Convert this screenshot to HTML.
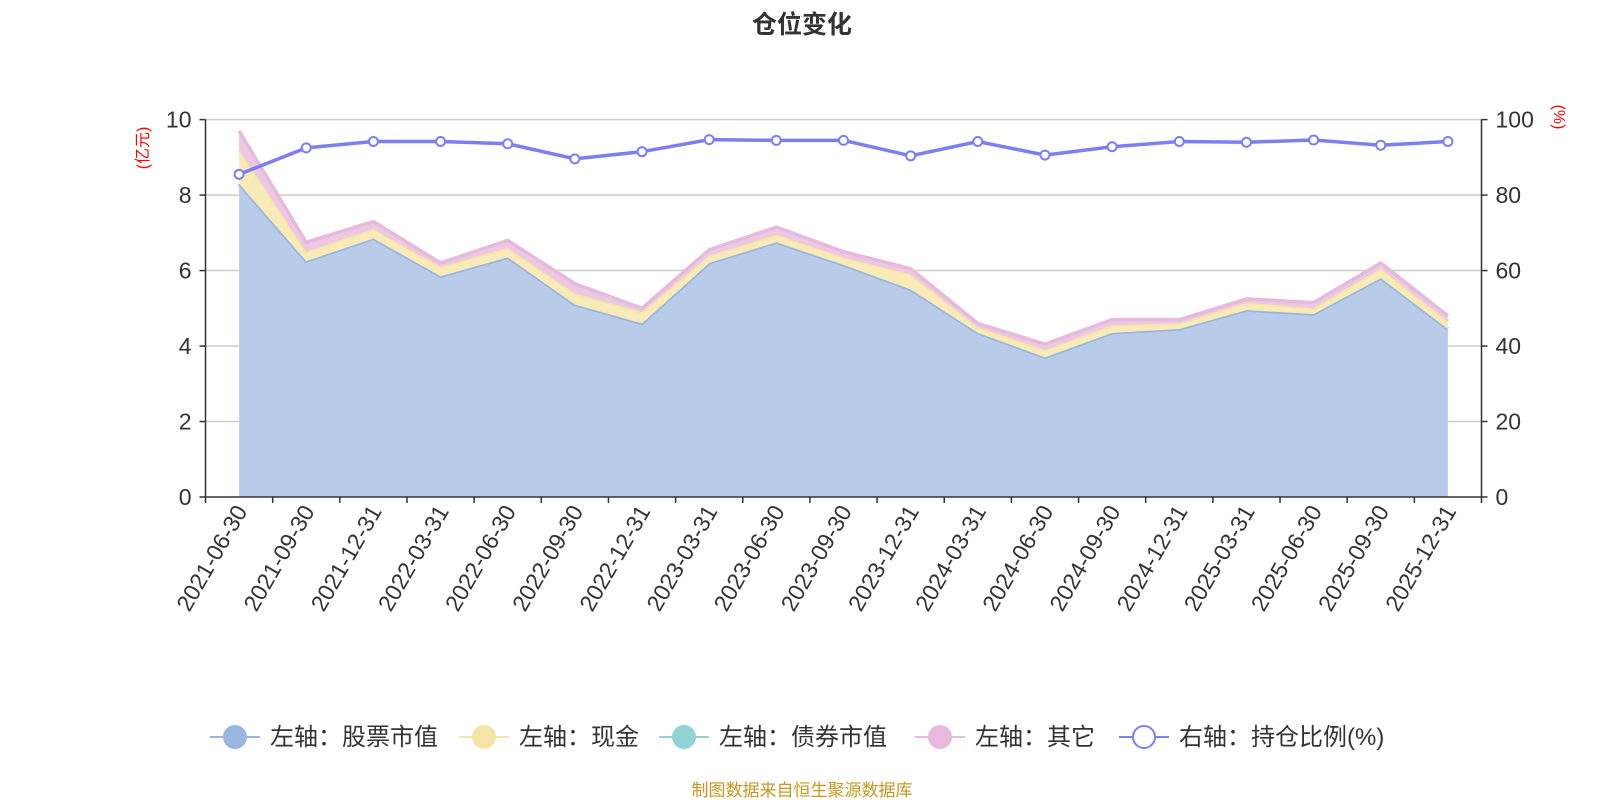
<!DOCTYPE html>
<html><head><meta charset="utf-8"><style>
html,body{margin:0;padding:0;background:#fff;width:1600px;height:800px;overflow:hidden;font-family:"Liberation Sans","Noto Sans CJK SC",sans-serif}
</style></head><body>
<svg id="chart" width="1600" height="800" xmlns="http://www.w3.org/2000/svg" font-family="Liberation Sans, Noto Sans CJK SC, sans-serif">
<text x="802" y="33" text-anchor="middle" font-size="25" font-weight="bold" fill="#333">仓位变化</text>
<text transform="translate(148,148) rotate(-90)" text-anchor="middle" font-size="16" fill="red">(亿元)</text>
<text transform="translate(1554,117) rotate(90)" text-anchor="middle" font-size="16" fill="red">(%)</text>
<g id="grid"></g><g id="areas"></g><g id="axes"></g><g id="ratio"></g>
<g id="legend"></g>
<text x="802" y="796" text-anchor="middle" font-size="17" fill="#c8961e">制图数据来自恒生聚源数据库</text>
</svg>
<script>
const categories=["2021-06-30","2021-09-30","2021-12-31","2022-03-31","2022-06-30","2022-09-30","2022-12-31","2023-03-31","2023-06-30","2023-09-30","2023-12-31","2024-03-31","2024-06-30","2024-09-30","2024-12-31","2025-03-31","2025-06-30","2025-09-30","2025-12-31"];
const stockValues=[8.3,6.25,6.85,5.85,6.35,5.1,4.6,6.2,6.75,6.15,5.5,4.35,3.7,4.35,4.45,4.95,4.85,5.8,4.45];
const cashValues=[0.9,0.25,0.25,0.25,0.25,0.3,0.3,0.2,0.2,0.2,0.4,0.15,0.2,0.2,0.15,0.2,0.15,0.25,0.2];
const bondValues=[0,0,0,0,0,0,0,0,0,0,0,0,0,0,0,0,0,0,0];
const otherValues=[0.5,0.25,0.2,0.1,0.2,0.25,0.1,0.15,0.2,0.15,0.15,0.1,0.15,0.15,0.1,0.1,0.15,0.15,0.15];
const ratioValues=[85.5,92.5,94.2,94.2,93.6,89.6,91.5,94.7,94.5,94.5,90.4,94.2,90.6,92.8,94.2,94.0,94.6,93.2,94.2];
const leftTicks=[0,2,4,6,8,10];
const rightTicks=[0,20,40,60,80,100];
const NS="http://www.w3.org/2000/svg";
const X0=205.5,X1=1481.5,Y0=497,Y1=119.6;
const step=(X1-X0)/categories.length;
const xPos=i=>X0+step*(i+0.5);
const yL=v=>Y0-(v/10)*(Y0-Y1);
const yR=v=>Y0-(v/100)*(Y0-Y1);
function mk(tag,attrs,parent){const e=document.createElementNS(NS,tag);for(const k in attrs)e.setAttribute(k,attrs[k]);parent.appendChild(e);return e;}
const grid=document.getElementById('grid'),axes=document.getElementById('axes'),areas=document.getElementById('areas'),ratio=document.getElementById('ratio'),legend=document.getElementById('legend');
leftTicks.forEach((t,i)=>{
  const y=yL(t);
  if(t>0){const g=mk('line',{x1:X0,x2:X1,y1:y,y2:y,stroke:'#ccc','stroke-width':1.5},grid);
  
  }
  mk('line',{x1:X0-6,x2:X0,y1:y,y2:y,stroke:'#333','stroke-width':1.5},axes);
  const tl=mk('text',{x:X0-14,y:y+8,'text-anchor':'end','font-size':23,fill:'#333'},axes);tl.textContent=t;
  
  
  const r=rightTicks[i];
  mk('line',{x1:X1,x2:X1+6,y1:yR(r),y2:yR(r),stroke:'#333','stroke-width':1.5},axes);
  const tr=mk('text',{x:X1+14,y:yR(r)+8,'font-size':23,fill:'#333'},axes);tr.textContent=r;
  
  
});
mk('line',{x1:X0,x2:X0,y1:Y1,y2:Y0,stroke:'#333','stroke-width':1.5},axes);
mk('line',{x1:X1,x2:X1,y1:Y1,y2:Y0,stroke:'#333','stroke-width':1.5},axes);
mk('line',{x1:X0,x2:X1,y1:Y0,y2:Y0,stroke:'#333','stroke-width':1.5},axes);
for(let i=0;i<=categories.length;i++){const x=X0+step*i;mk('line',{x1:x,x2:x,y1:Y0,y2:Y0+6,stroke:'#333','stroke-width':1.5},axes);}
categories.forEach((c,i)=>{
  const x=xPos(i);
  const t=mk('text',{transform:`translate(${x+9},${Y0+14}) rotate(-60)`,'text-anchor':'end','font-size':23,fill:'#333'},axes);t.textContent=c;
  
  
});
let base=categories.map(()=>0);
const series=[[stockValues,'#b8cbe8','#9ab5e0','stock-area'],[cashValues,'#f9ebb8','#f5e6a8','cash-area'],[bondValues,'#a8dada',null,'bond-area'],[otherValues,'#ecc8e2','#e7b9dc','other-area']];
series.forEach(([vals,fill,stroke,name])=>{
  const top=vals.map((v,i)=>base[i]+v);
  let d='M'+top.map((v,i)=>xPos(i)+','+yL(v)).join(' L');
  for(let i=categories.length-1;i>=0;i--)d+=' L'+xPos(i)+','+yL(base[i]);
  const a=mk('path',{d:d+'Z',fill:fill,stroke:'none'},areas);
  
  
  if(stroke){
  const l=mk('polyline',{points:top.map((v,i)=>xPos(i)+','+yL(v)).join(' '),fill:'none',stroke:stroke,'stroke-width':3.5},areas);
  
  }
  base=top;
});
const rl=mk('polyline',{points:ratioValues.map((v,i)=>xPos(i)+','+yR(v)).join(' '),fill:'none',stroke:'#7b7ff0','stroke-width':3.5},ratio);


ratioValues.forEach((v,i)=>{
  const p=mk('circle',{cx:xPos(i),cy:yR(v),r:4.5,fill:'#fff',stroke:'#7b7ff0','stroke-width':2},ratio);
  
  
});
const legendItems=[['左轴：股票市值','#9ab5e0',true,210],['左轴：现金','#f5e6a8',true,459],['左轴：债券市值','#93d2d3',true,659],['左轴：其它','#e7b9dc',true,915],['右轴：持仓比例(%)','#7b7ff0',false,1119]];
legendItems.forEach(([label,col,filled,x])=>{
  const g=mk('g',{},legend);
  
  
  mk('line',{x1:x,x2:x+50,y1:737,y2:737,stroke:col,'stroke-width':2},g);
  mk('circle',{cx:x+25,cy:737,r:11,fill:filled?col:'#fff',stroke:col,'stroke-width':2},g);
  const t=mk('text',{x:x+60,y:745,'font-size':24,fill:'#333'},g);t.textContent=label;
});
</script>
</body></html>
